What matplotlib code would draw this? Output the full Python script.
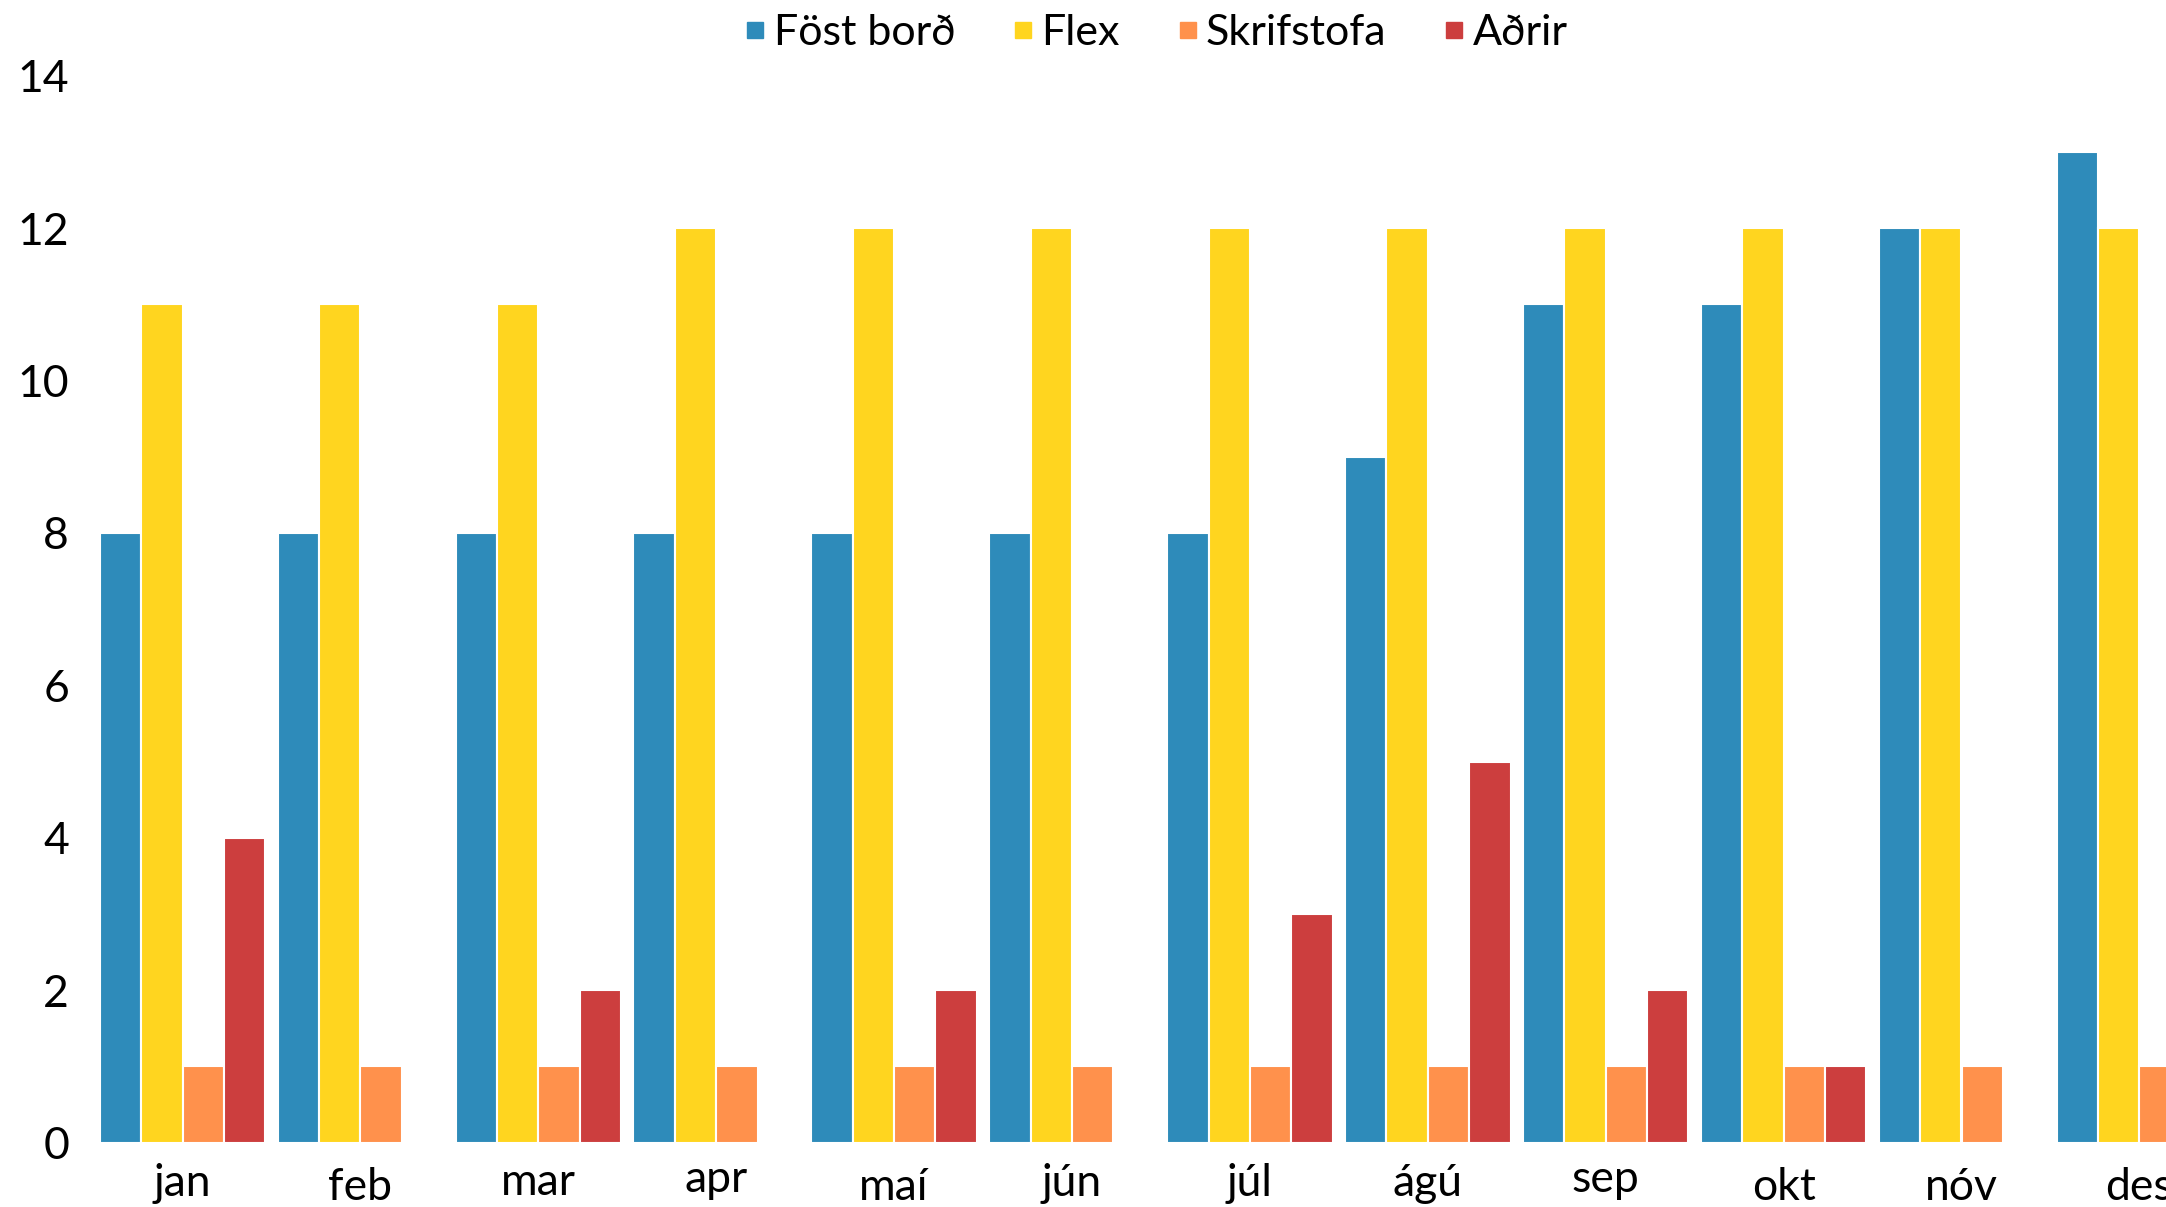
import numpy as np
import matplotlib
matplotlib.use('Agg')
import matplotlib.pyplot as plt
from matplotlib.textpath import TextPath
from matplotlib.font_manager import FontProperties
from matplotlib.lines import Line2D

months = ['jan', 'feb', 'mar', 'apr', 'maí', 'jún', 'júl', 'ágú', 'sep', 'okt', 'nóv', 'des']
series_names = ['Föst borð', 'Flex', 'Skrifstofa', 'Aðrir']
fost_bord = [8, 8, 8, 8, 8, 8, 8, 9, 11, 11, 12, 13]
flex = [11, 11, 11, 12, 12, 12, 12, 12, 12, 12, 12, 12]
skrifstofa = [1, 1, 1, 1, 1, 1, 1, 1, 1, 1, 1, 1]
adrir = [4, 0, 2, 0, 2, 0, 3, 5, 2, 1, 0, 0]
yticks = [0, 2, 4, 6, 8, 10, 12, 14]

colors = ['#2E8BBA', '#FFD51F', '#FF914C', '#CC3E3E']
data = [fost_bord, flex, skrifstofa, adrir]

plt.rcParams['font.family'] = ['Lato', 'DejaVu Sans']
W, H = 2166, 1207
fig = plt.figure(figsize=(W / 100, H / 100), dpi=100)
left_px, bottom_px, top_px = 85, 1142.5, 75.7
ax = fig.add_axes([left_px / W, (H - bottom_px) / H, 1 - left_px / W, (bottom_px - top_px) / H])

# category spacing ~177.9 px, first center ~182.5 px
sp, c0 = 177.9, 182.5
x0 = (left_px - c0) / sp
x1 = x0 + (W - left_px) / sp

x = np.arange(len(months))
w = 0.2326
for k, (vals, c) in enumerate(zip(data, colors)):
    ax.bar(x + (k - 1.5) * w, vals, width=w, color=c, edgecolor='white', linewidth=1.5)

ax.set_xlim(x0, x1)
ax.set_ylim(0, 14)
ax.set_yticks(yticks)
ax.tick_params(axis='y', length=0, labelsize=32, pad=11.5)
ax.set_xticks([])
for s in ax.spines.values():
    s.set_visible(False)

fs = 32
fp = FontProperties(family='Lato', size=fs)
for i, m in enumerate(months):
    ext = TextPath((0, 0), m, size=fs, prop=fp).get_extents()
    cy = (ext.y0 + ext.y1) / 2
    ax.annotate(m, xy=(i, 0), xycoords=('data', 'axes fraction'),
                xytext=(0, -29.9 - cy), textcoords='offset points',
                ha='center', va='baseline', fontsize=fs, annotation_clip=False)

handles = [Line2D([], [], marker='s', linestyle='', color=c, markersize=11) for c in colors]
fig.legend(handles, series_names, loc='upper center', bbox_to_anchor=(0.5335, 0.992), ncol=4,
           frameon=False, fontsize=31, handlelength=0.55, handletextpad=0.15,
           columnspacing=1.3, borderaxespad=0, borderpad=0.1)

fig.savefig('out.png', dpi=100)
